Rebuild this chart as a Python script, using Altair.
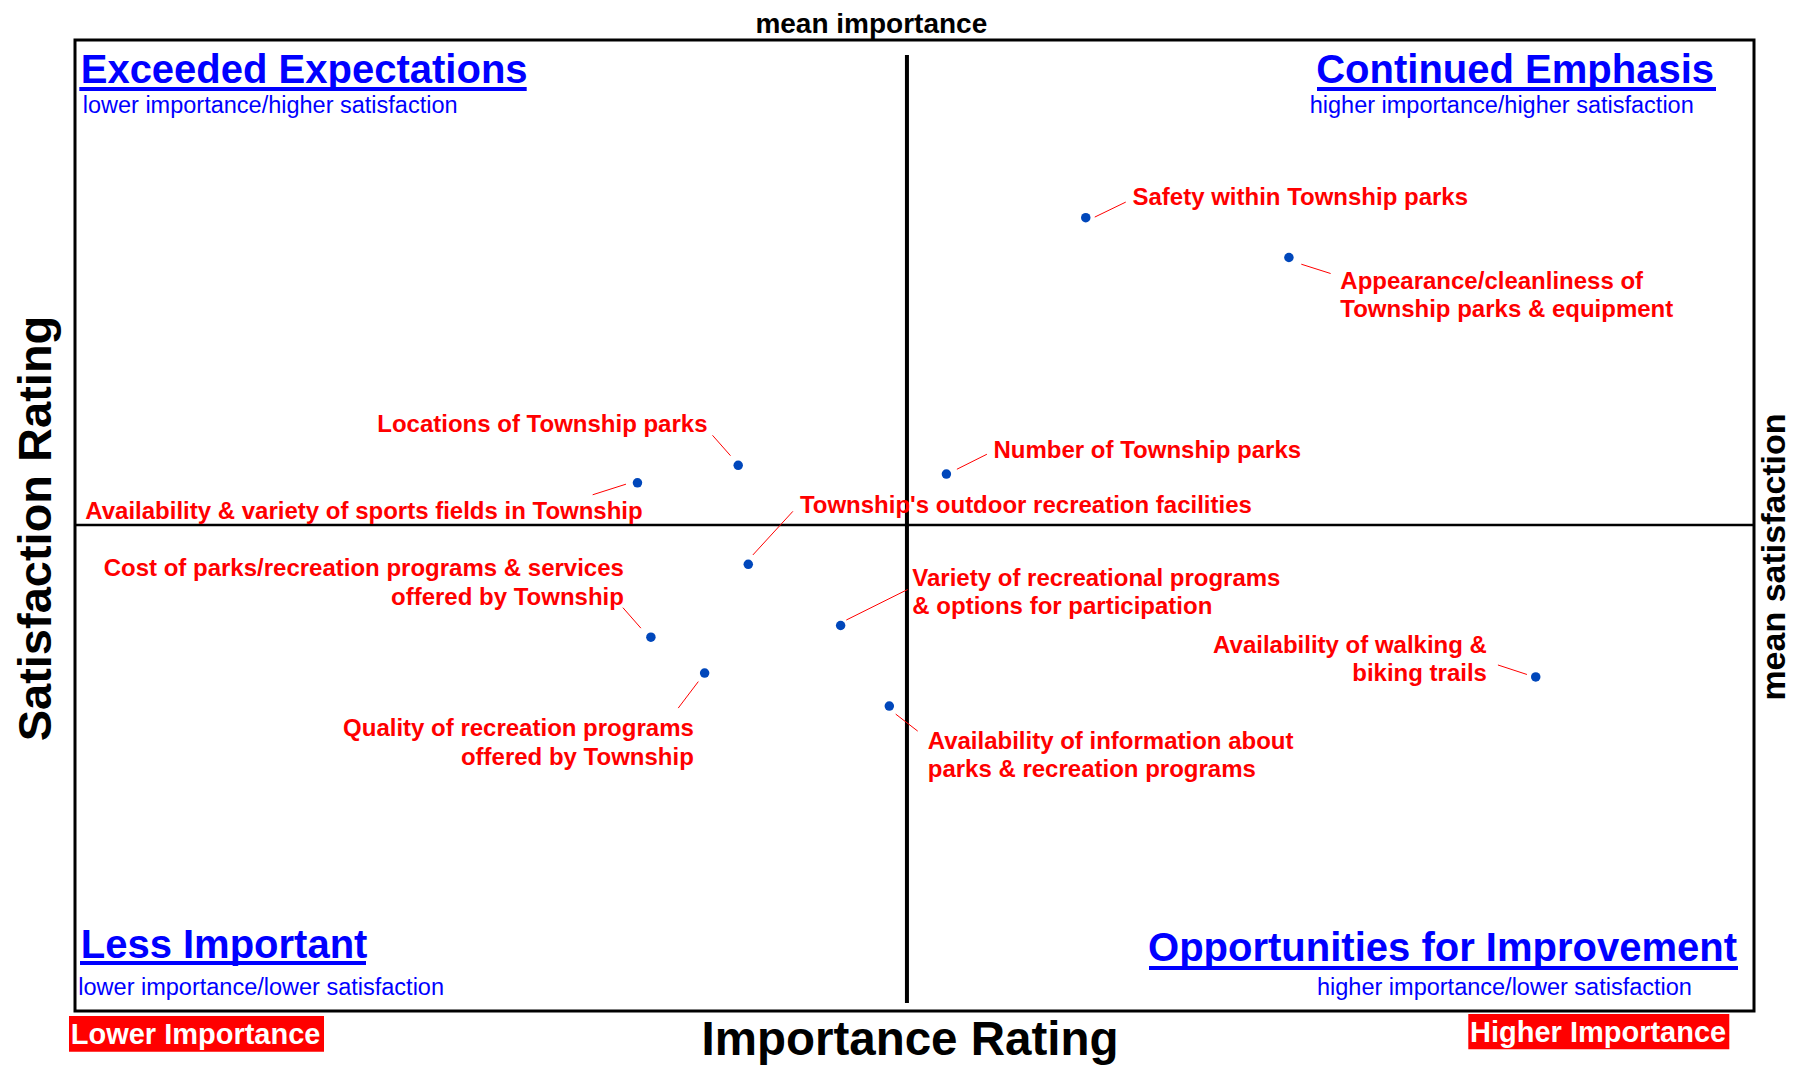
import altair as alt
import pandas as pd

# ---------------- data ----------------
items = [
    "Safety within Township parks",
    "Appearance/cleanliness of\nTownship parks & equipment",
    "Number of Township parks",
    "Locations of Township parks",
    "Availability & variety of sports fields in Township",
    "Township's outdoor recreation facilities",
    "Cost of parks/recreation programs & services\noffered by Township",
    "Quality of recreation programs\noffered by Township",
    "Variety of recreational programs\n& options for participation",
    "Availability of information about\nparks & recreation programs",
    "Availability of walking &\nbiking trails",
]
importance = [3.302, 3.423, 3.219, 3.095, 3.035, 3.101, 3.043, 3.075, 3.156, 3.185, 3.570]
satisfaction = [3.417, 3.376, 3.153, 3.162, 3.144, 3.060, 2.985, 2.948, 2.997, 2.914, 2.944]
mean_importance = 3.1955
mean_satisfaction = 3.1005

# ---------------- layout (pixels) ----------------
W, H = 1679, 971
X_DOMAIN = [2.7, 3.7]
Y_DOMAIN = [2.6, 3.6]
PX_X = W / (X_DOMAIN[1] - X_DOMAIN[0])
PX_Y = H / (Y_DOMAIN[1] - Y_DOMAIN[0])

label_align = ["left", "left", "left", "right", "left", "left",
               "right", "right", "left", "left", "right"]
label_offset = [(46.7, -12.6), (51.4, 31), (47.1, -15.8), (-30.7, -33.6),
                (-552.2, 36.2), (51.6, -51), (-27, -61), (-10.8, 63),
                (71.7, -40), (38.4, 42.5), (-48.8, -24)]
leader_offset = [((9, -0.6), (40, -15.6)), ((12.4, 6.7), (41.7, 16)),
                 ((10.5, -4.8), (40.5, -19.8)), ((-7.7, -9.6), (-25.7, -30)),
                 ((-11.5, 1.4), (-44.8, 12)), ((4.6, -9.4), (44.6, -53)),
                 ((-10, -9), (-28, -29.5)), ((-6.3, 8.5), (-26.4, 35)),
                 ((5.7, -5.5), (67, -36)), ((6.4, 8), (28.4, 25)),
                 ((-8.8, -2.5), (-37.8, -12))]

FONT = "Liberation Sans"
BLUE = "#0000FF"
RED = "#FF0000"
DOT = "#0047BB"

df = pd.DataFrame({"item": items, "imp": importance, "sat": satisfaction})
df["align"] = label_align
df["lx"] = [i + o[0] / PX_X for i, o in zip(importance, label_offset)]
df["ly"] = [s - o[1] / PX_Y for s, o in zip(satisfaction, label_offset)]
df["x1"] = [i + o[0][0] / PX_X for i, o in zip(importance, leader_offset)]
df["y1"] = [s - o[0][1] / PX_Y for s, o in zip(satisfaction, leader_offset)]
df["x2"] = [i + o[1][0] / PX_X for i, o in zip(importance, leader_offset)]
df["y2"] = [s - o[1][1] / PX_Y for s, o in zip(satisfaction, leader_offset)]

xs = alt.Scale(domain=X_DOMAIN, nice=False, zero=False)
ys = alt.Scale(domain=Y_DOMAIN, nice=False, zero=False)

base = alt.Chart(df)

# mean lines
means = pd.DataFrame({
    "mi": [mean_importance], "ms": [mean_satisfaction],
    "xa": [X_DOMAIN[0]], "xb": [X_DOMAIN[1]],
    "ya": [Y_DOMAIN[1] - 15 / PX_Y], "yb": [Y_DOMAIN[1] - 963 / PX_Y],
})
hline = alt.Chart(means).mark_rule(color="black", strokeWidth=2.5).encode(
    x=alt.X("xa:Q", scale=xs, axis=None), x2="xb:Q",
    y=alt.Y("ms:Q", scale=ys, axis=None))
vline = alt.Chart(means).mark_rule(color="black", strokeWidth=4).encode(
    x=alt.X("mi:Q", scale=xs, axis=None),
    y=alt.Y("ya:Q", scale=ys, axis=None), y2="yb:Q")

leaders = base.mark_rule(color=RED, strokeWidth=1).encode(
    x=alt.X("x1:Q", scale=xs, axis=None), x2="x2:Q",
    y=alt.Y("y1:Q", scale=ys, axis=None), y2="y2:Q")

points = base.mark_circle(size=90, color=DOT, opacity=1).encode(
    x=alt.X("imp:Q", scale=xs, axis=None),
    y=alt.Y("sat:Q", scale=ys, axis=None))


def labels(al):
    return base.transform_filter(alt.datum.align == al).mark_text(
        font=FONT, fontWeight="bold", fontSize=24, color=RED, align=al,
        baseline="alphabetic", lineBreak="\n", lineHeight=28.5).encode(
        x=alt.X("lx:Q", scale=xs, axis=None),
        y=alt.Y("ly:Q", scale=ys, axis=None),
        text="item:N")


def txt(s, px, py, size, color="black", weight="bold", align="left", angle=0):
    kw = dict(font=FONT, fontWeight=weight, fontSize=size, color=color,
              align=align, baseline="alphabetic")
    if angle:
        kw["angle"] = angle
    return alt.Chart(pd.DataFrame({"t": [s]})).mark_text(**kw).encode(
        text="t:N", x=alt.value(px), y=alt.value(py))


def bar(x1, x2, y1, y2, color):
    return alt.Chart(pd.DataFrame({"k": [0]})).mark_rect(color=color).encode(
        x=alt.value(x1), x2=alt.value(x2), y=alt.value(y1), y2=alt.value(y2))


annotations = [
    # quadrant titles + underlines
    txt("Exceeded Expectations", 5.7, 42.7, 40, BLUE),
    bar(4.3, 451.7, 47, 51, BLUE),
    txt("lower importance/higher satisfaction", 7.7, 73.3, 23.5, BLUE, "normal"),
    txt("Continued Emphasis", 1639, 42.7, 40, BLUE, align="right"),
    bar(1242, 1641, 47, 51, BLUE),
    txt("higher importance/higher satisfaction", 1234.7, 73, 23.5, BLUE, "normal"),
    txt("Less Important", 5.7, 918.3, 40, BLUE),
    bar(5, 291, 921, 925, BLUE),
    txt("lower importance/lower satisfaction", 3.3, 955, 23.5, BLUE, "normal"),
    txt("Opportunities for Improvement", 1662, 921.3, 40, BLUE, align="right"),
    bar(1074, 1663, 926, 930, BLUE),
    txt("higher importance/lower satisfaction", 1242, 955, 23.5, BLUE, "normal"),
    # axis-like titles
    txt("mean importance", 796.3, -6.6, 28, align="center"),
    txt("mean satisfaction", 1710, 517, 34, align="center", angle=270),
    txt("Satisfaction Rating", -24, 488.5, 47, align="center", angle=270),
    txt("Importance Rating", 835, 1015, 47.5, align="center"),
    # red boxes
    bar(-6, 249, 976, 1011.7, RED),
    txt("Lower Importance", -4.3, 1004.3, 29, "white"),
    bar(1393.3, 1654.3, 974, 1009.3, RED),
    txt("Higher Importance", 1395, 1002, 29, "white"),
]

chart = alt.layer(
    hline, vline, leaders, points, labels("left"), labels("right"), *annotations
).properties(
    width=W, height=H,
    autosize=alt.AutoSizeParams(type="none"),
    padding={"left": 67, "top": 32, "right": 40, "bottom": 54},
    background="white",
).configure_view(stroke="black", strokeWidth=3)

chart.save("out.html", embed_options={"renderer": "svg", "actions": False})
